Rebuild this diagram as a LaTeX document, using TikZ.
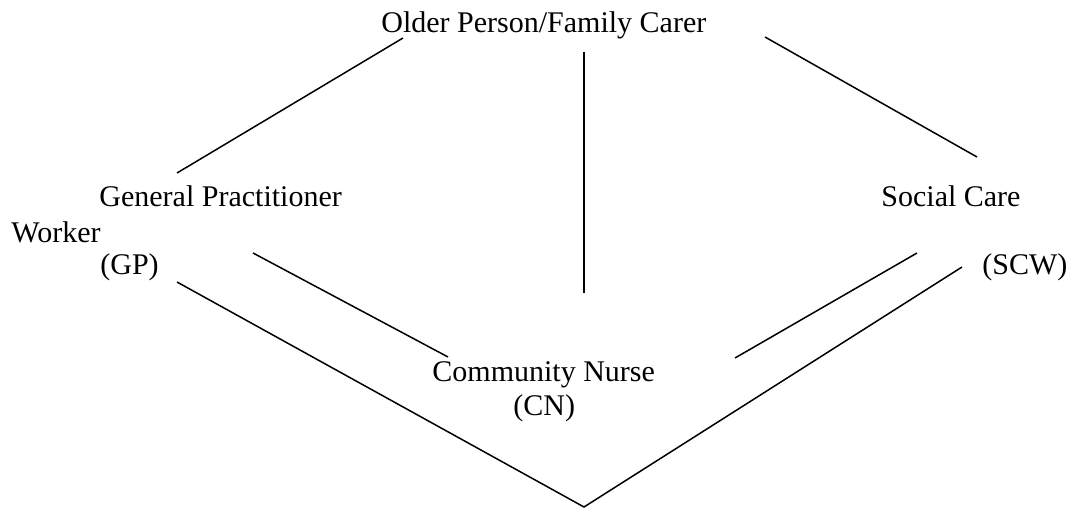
\documentclass[tikz,border=0pt]{standalone}
\usepackage{fontspec}
\setmainfont{Liberation Serif}
\usetikzlibrary{positioning}
\tikzset{
  role/.style={anchor=base west, inner sep=0pt, font=\fontsize{15}{18}\selectfont},
  link/.style={line width=0.75pt}
}

\begin{document}
\begin{tikzpicture}[x=0.5pt, y=-0.5pt]
\useasboundingbox (0,0) rectangle (1070,508);
\node[role] (op)   at (381,33)  {Older Person/Family Carer};
\node[role] (gp)   at (99,206)  {General Practitioner};
\node[role] (sc)   at (881,206) {Social Care};
\node[role] (wk)   at (11,242)  {Worker};
\node[role] (gpab) at (100,274) {(GP)};
\node[role] (scw)  at (982,274) {(SCW)};
\node[role] (cn)   at (432,381) {Community Nurse};
\node[role] (cnab) at (513,415) {(CN)};
% line ends
\coordinate (op-l) at (403,38);
\coordinate (op-m) at (584,52);
\coordinate (op-r) at (765,37);
\coordinate (gp-t) at (177,173);
\coordinate (gp-r) at (253,253);
\coordinate (gp-b) at (177,282);
\coordinate (sc-t) at (977,157);
\coordinate (sc-l) at (917,253);
\coordinate (sc-b) at (962,267);
\coordinate (cn-t) at (584,293);
\coordinate (cn-l) at (448,357);
\coordinate (cn-r) at (735,358);
\coordinate (apex) at (584,507);
\path[link]
(op-l) edge (gp-t)
(op-m) edge (cn-t)
(op-r) edge (sc-t);
\path[link]
(gp-r) edge (cn-l)
(sc-l) edge (cn-r);
\draw[link] (gp-b) -- (apex) -- (sc-b);
\end{tikzpicture}
\end{document}
